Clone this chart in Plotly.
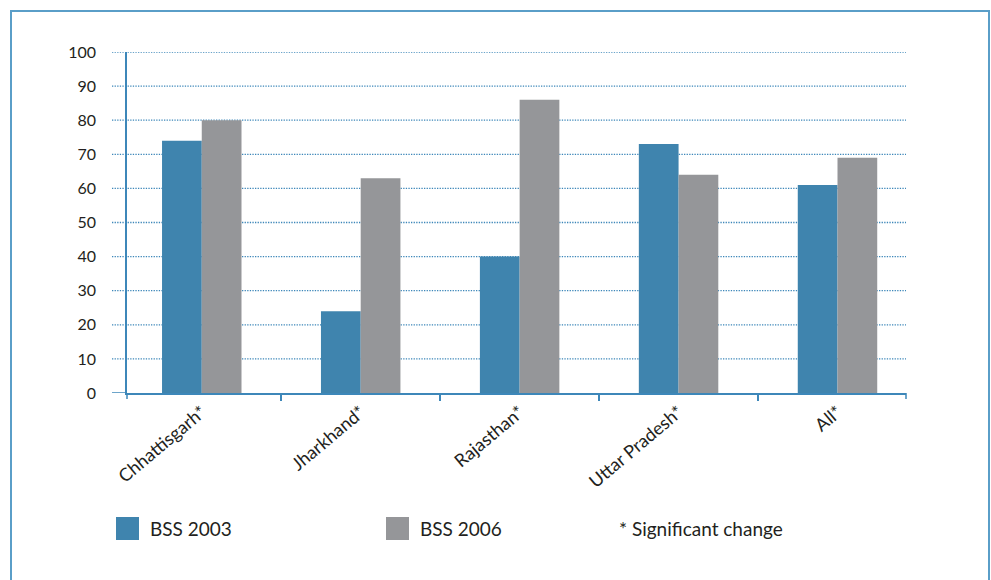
import plotly.graph_objects as go

# Chart data
states = ["Chhattisgarh*", "Jharkhand*", "Rajasthan*", "Uttar Pradesh*", "All*"]
series_names = ["BSS 2003", "BSS 2006"]
bss_2003 = [74, 24, 40, 73, 61]
bss_2006 = [80, 63, 86, 64, 69]
y_ticks = [0, 10, 20, 30, 40, 50, 60, 70, 80, 90, 100]
footnote = "* Significant change"

# Styling
BLUE = "#3f84ae"
GREY = "#959699"
AXIS = "#3d87b9"
FRAME = "#5a9ec8"
TEXT = "#231f20"
FONT = "Lato, 'Open Sans', sans-serif"

W, H = 991, 580
L, R, T, B = 127, 85, 52, 187
PW, PH = W - L - R, H - T - B


def px_x(p):
    return (p - L) / PW


def px_y(p):
    return (H - B - p) / PH


fig = go.Figure()
for name, vals, col in zip(series_names, [bss_2003, bss_2006], [BLUE, GREY]):
    fig.add_trace(go.Bar(x=states, y=vals, name=name, marker_color=col,
                         marker_line_width=0, showlegend=False))

shapes = []
# dotted gridlines, starting slightly left of the y axis
for v in y_ticks[1:]:
    shapes.append(dict(type="line", xref="paper", yref="y", x0=px_x(112), x1=1,
                       y0=v, y1=v, layer="below",
                       line=dict(color=AXIS, width=1.3, dash="1.3px,1.3px")))
# baseline stub left of the y axis
shapes.append(dict(type="line", xref="paper", yref="y", x0=px_x(112), x1=0,
                   y0=0, y1=0, line=dict(color=AXIS, width=1.5)))
# short ticks below the baseline at both ends
for xp in [0, 1]:
    shapes.append(dict(type="line", xref="paper", yref="paper", x0=xp, x1=xp,
                       y0=0, y1=-6 / PH, line=dict(color=AXIS, width=1.5)))
# outer frame
shapes.append(dict(type="rect", xref="paper", yref="paper",
                   x0=px_x(11), x1=px_x(989), y0=px_y(600), y1=px_y(11),
                   line=dict(color=FRAME, width=2), fillcolor="rgba(0,0,0,0)"))

# legend: swatches and labels
annotations = []
legend_x = [116, 386]
for name, col, lx in zip(series_names, [BLUE, GREY], legend_x):
    shapes.append(dict(type="rect", xref="paper", yref="paper",
                       x0=px_x(lx), x1=px_x(lx + 23), y0=px_y(540), y1=px_y(517),
                       fillcolor=col, line=dict(width=0)))
    annotations.append(dict(text=name, xref="paper", yref="paper",
                            x=px_x(lx + 32), y=px_y(528), xanchor="left",
                            yanchor="middle", showarrow=False,
                            font=dict(family=FONT, size=19, color=TEXT)))
annotations.append(dict(text=footnote, xref="paper", yref="paper",
                        x=px_x(617), y=px_y(528), xanchor="left", yanchor="middle",
                        showarrow=False, font=dict(family=FONT, size=19, color=TEXT)))

fig.update_layout(
    width=W, height=H,
    margin=dict(l=L, r=R, t=T, b=B),
    paper_bgcolor="white", plot_bgcolor="white",
    barmode="group", bargap=0.5, bargroupgap=0,
    font=dict(family=FONT, size=16, color=TEXT),
    shapes=shapes, annotations=annotations,
    xaxis=dict(range=[-0.4704, 4.431], showline=True, linecolor=AXIS, linewidth=1.5,
               ticks="outside", tickson="boundaries", ticklen=6, tickcolor=AXIS,
               tickwidth=1.5, tickangle=-40, showgrid=False,
               tickfont=dict(family=FONT, size=18, color=TEXT)),
    yaxis=dict(range=[0, 100], tickvals=y_ticks, showline=True, linecolor=AXIS,
               linewidth=1.5, showgrid=False, zeroline=False, ticks="",
               ticklabelstandoff=26,
               tickfont=dict(family=FONT, size=16, color=TEXT)),
)

fig.write_html("out.html")
